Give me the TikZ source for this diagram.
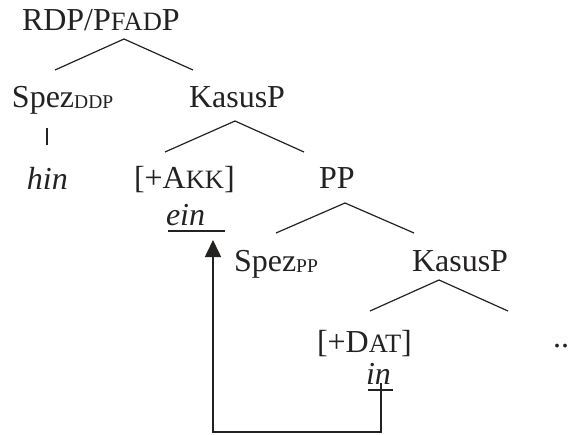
\documentclass[tikz,border=0pt]{standalone}
\usepackage{fontspec}
\setmainfont{Liberation Serif}
\usetikzlibrary{arrows.meta}
\definecolor{ink}{rgb}{0.14,0.13,0.13}
\newcommand\fsc[1]{{\fontsize{26.5}{26.5}\selectfont #1}}
\newcommand\fsub[1]{\raisebox{-1pt}{\fontsize{19.5}{19.5}\selectfont #1}}
\tikzset{
  lbl/.style={anchor=base west,inner sep=0pt,outer sep=0pt,text=ink,font=\fontsize{32}{38}\selectfont},
  branch/.style={draw=ink,line width=1.2pt},
  uline/.style={draw=ink,line width=1.4pt},
  mover/.style={draw=ink,line width=1.6pt,-{Triangle[width=16pt,length=17pt]}}
}
\begin{document}
\begin{tikzpicture}[x=1pt,y=-1pt]
\useasboundingbox (0,0) rectangle (570,434);
% labels
\node[lbl] (root) at (22,30) {RDP/P\fsc{FAD}P};
\node[lbl] (spezddp) at (12,107) {Spez\fsub{DDP}};
\node[lbl] (kasus1) at (189,107) {KasusP};
\node[lbl] (hin) at (27,189) {\textit{hin}};
\node[lbl] (akk) at (134,188) {[+A\fsc{KK}]};
\node[lbl] (pp) at (319,188) {PP};
\node[lbl] (ein) at (166,225) {\textit{ein}};
\node[lbl] (spezpp) at (234,271) {Spez\fsub{PP}};
\node[lbl] (kasus2) at (412,271) {KasusP};
\node[lbl] (dat) at (317,352) {[+D\fsc{AT}]};
\node[lbl] (dots) at (553,347) {..};
\node[lbl] (in) at (366,384) {\textit{in}};
% branch points
\coordinate (a0) at (124,39);  \coordinate (l0) at (55,70);   \coordinate (r0) at (193,70);
\coordinate (b0) at (47,128);  \coordinate (b1) at (47,145);
\coordinate (a1) at (235,121); \coordinate (l1) at (165,152); \coordinate (r1) at (304,152);
\coordinate (a2) at (345,203); \coordinate (l2) at (276,233); \coordinate (r2) at (414,233);
\coordinate (a3) at (439,280); \coordinate (l3) at (370,311); \coordinate (r3) at (508,311);
\draw[branch] (l0) -- (a0) -- (r0);
\draw[branch] (b0) -- (b1);
\draw[branch] (l1) -- (a1) -- (r1);
\draw[branch] (l2) -- (a2) -- (r2);
\draw[branch] (l3) -- (a3) -- (r3);
% underlines
\coordinate (eul) at (168,231); \coordinate (eur) at (225,231);
\coordinate (iul) at (368,390); \coordinate (iur) at (393,390);
\draw[uline] (eul) -- (eur);
\draw[uline] (iul) -- (iur);
% movement arrow
\coordinate (intop) at (381,383);
\coordinate (einbot) at (213,240);
\coordinate (floor) at (297,432);
\draw[mover] (intop) -- (intop |- floor) -| (einbot);
\end{tikzpicture}
\end{document}
